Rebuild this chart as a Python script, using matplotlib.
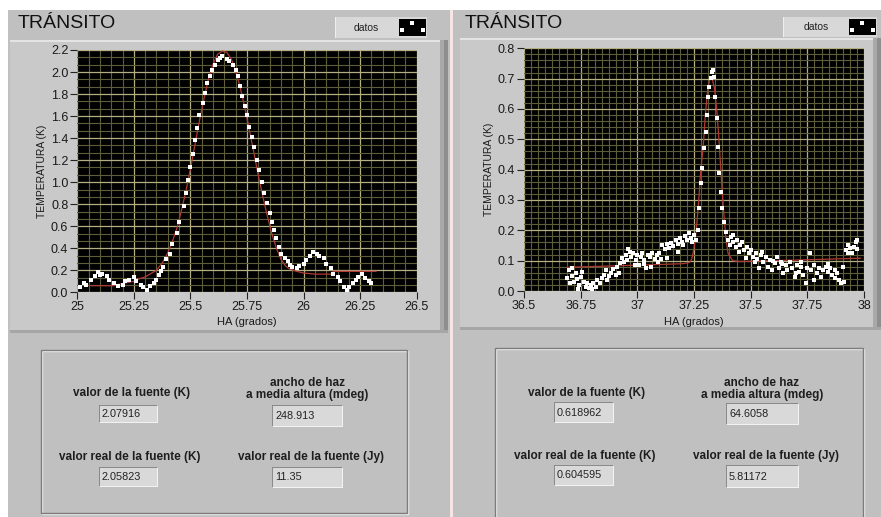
import matplotlib
matplotlib.use("Agg")
import matplotlib.pyplot as plt
from matplotlib.patches import Rectangle, Patch
from matplotlib.legend_handler import HandlerTuple
from matplotlib.ticker import MultipleLocator, FixedLocator
import numpy as np

plt.rcParams['font.family'] = ['Liberation Sans', 'DejaVu Sans']

# ---- left transit ----
left_x = [25.01, 25.03, 25.04, 25.06, 25.08, 25.09, 25.10, 25.11, 25.13, 25.14,
          25.16, 25.18, 25.20, 25.21, 25.23, 25.25, 25.26, 25.28, 25.29, 25.31,
          25.32, 25.34, 25.35, 25.36, 25.37, 25.38, 25.39, 25.41, 25.42, 25.44,
          25.45, 25.47, 25.48, 25.49, 25.50, 25.51, 25.52, 25.53, 25.54, 25.555,
          25.565, 25.575, 25.585, 25.595, 25.61, 25.62, 25.63, 25.64, 25.66, 25.67,
          25.69, 25.70, 25.71, 25.72, 25.73, 25.74, 25.75, 25.76, 25.77, 25.78,
          25.795, 25.805, 25.815, 25.825, 25.84, 25.85, 25.86, 25.87, 25.88, 25.89,
          25.90, 25.92, 25.93, 25.94, 25.95, 25.97, 25.98, 26.00, 26.01, 26.03,
          26.04, 26.06, 26.07, 26.09, 26.10, 26.12, 26.13, 26.15, 26.16, 26.18,
          26.19, 26.20, 26.22, 26.23, 26.24, 26.26, 26.27, 26.29, 26.30]
left_y = [0.045, 0.08, 0.067, 0.11, 0.15, 0.18, 0.16, 0.17, 0.15, 0.11,
          0.08, 0.06, 0.067, 0.10, 0.11, 0.14, 0.10, 0.067, 0.05, 0.02,
          0.06, 0.08, 0.11, 0.16, 0.19, 0.23, 0.30, 0.35, 0.44, 0.54,
          0.64, 0.78, 0.90, 1.02, 1.14, 1.26, 1.38, 1.49, 1.61, 1.72,
          1.81, 1.90, 1.96, 2.02, 2.06, 2.11, 2.13, 2.15, 2.12, 2.10,
          2.06, 2.02, 1.96, 1.87, 1.78, 1.69, 1.61, 1.50, 1.41, 1.32,
          1.20, 1.11, 1.00, 0.90, 0.81, 0.72, 0.64, 0.57, 0.49, 0.41,
          0.35, 0.31, 0.28, 0.25, 0.23, 0.22, 0.24, 0.26, 0.29, 0.33,
          0.37, 0.35, 0.33, 0.31, 0.26, 0.22, 0.17, 0.14, 0.10, 0.05,
          0.02, 0.045, 0.08, 0.11, 0.14, 0.17, 0.13, 0.10, 0.08]
left_fit_x = [25.06, 25.16, 25.20, 25.25, 25.27, 25.30, 25.35, 25.38, 25.40, 25.42,
              25.44, 25.46, 25.48, 25.50, 25.52, 25.54, 25.56, 25.58, 25.60, 25.62,
              25.64, 25.66, 25.68, 25.70, 25.72, 25.74, 25.76, 25.78, 25.80, 25.82,
              25.84, 25.86, 25.88, 25.90, 25.92, 25.94, 25.97, 26.00, 26.05, 26.13,
              26.13, 26.32]
left_fit_y = [0.06, 0.06, 0.08, 0.10, 0.12, 0.14, 0.20, 0.28, 0.36, 0.46,
              0.58, 0.74, 0.92, 1.12, 1.34, 1.56, 1.76, 1.94, 2.07, 2.16,
              2.19, 2.18, 2.12, 2.01, 1.86, 1.68, 1.48, 1.27, 1.06, 0.87,
              0.69, 0.53, 0.40, 0.30, 0.24, 0.21, 0.19, 0.175, 0.165, 0.165,
              0.19, 0.19]
left_xticks = [25, 25.25, 25.5, 25.75, 26, 26.25, 26.5]
left_xlabels = ['25', '25.25', '25.5', '25.75', '26', '26.25', '26.5']
left_yticks = [0.0, 0.2, 0.4, 0.6, 0.8, 1.0, 1.2, 1.4, 1.6, 1.8, 2.0, 2.2]
left_values = ['2.07916', '248.913', '2.05823', '11.35']

# ---- right transit ----
right_x = [36.691, 36.699, 36.703, 36.713, 36.721, 36.728, 36.735, 36.743, 36.750, 36.757,
           36.765, 36.772, 36.779, 36.787, 36.794, 36.806, 36.816, 36.824, 36.835, 36.846,
           36.853, 36.865, 36.875, 36.885, 36.894, 36.904, 36.912, 36.924, 36.934, 36.941,
           36.949, 36.956, 36.968, 36.974, 36.982, 36.993, 37.000, 37.007, 37.015, 37.022,
           37.029, 37.038, 37.047, 37.056, 37.066, 37.076, 37.085, 37.096, 37.103, 37.110,
           37.121, 37.129, 37.140, 37.147, 37.159, 37.169, 37.179, 37.188, 37.199, 37.209,
           37.221, 37.228, 37.238, 37.250, 37.257,
           37.269, 37.274, 37.281, 37.287, 37.294, 37.301, 37.306, 37.313, 37.318, 37.324,
           37.328, 37.332, 37.338, 37.344, 37.350, 37.356, 37.362, 37.368, 37.375, 37.382,
           37.391,
           37.400, 37.409, 37.415, 37.424, 37.434, 37.441, 37.453, 37.463, 37.471, 37.482,
           37.493, 37.500, 37.512, 37.522, 37.529, 37.537, 37.547, 37.556, 37.566, 37.576,
           37.585, 37.596, 37.606, 37.615, 37.625, 37.632, 37.644, 37.654, 37.662, 37.674,
           37.684, 37.694, 37.703, 37.713, 37.724, 37.732, 37.743, 37.750, 37.762, 37.768,
           37.779, 37.791, 37.801, 37.812, 37.821, 37.831, 37.841, 37.850, 37.860, 37.871,
           37.879, 37.890, 37.900, 37.909, 37.919, 37.929, 37.938, 37.949, 37.956, 37.963,
           37.971,
           36.960, 36.990, 37.030, 37.060, 37.090, 37.130, 37.180, 37.200, 37.240, 37.420,
           37.450, 37.480, 37.520, 37.550, 37.600, 37.640, 37.700, 37.720, 37.780, 37.840,
           37.870, 37.910, 37.930, 37.970, 36.710, 36.740, 36.800, 36.860, 36.920]
right_y = [0.042, 0.069, 0.025, 0.049, 0.031, 0.058, 0.038, 0.020, 0.047, 0.064,
           0.031, 0.014, 0.025, 0.009, 0.020, 0.027, 0.014, 0.036, 0.025, 0.042,
           0.053, 0.036, 0.049, 0.058, 0.071, 0.053, 0.080, 0.091, 0.108, 0.097,
           0.119, 0.102, 0.130, 0.111, 0.124, 0.102, 0.119, 0.086, 0.111, 0.126,
           0.102, 0.075, 0.119, 0.111, 0.126, 0.104, 0.119, 0.124, 0.104, 0.152,
           0.137, 0.155, 0.141, 0.159, 0.148, 0.168, 0.155, 0.174, 0.163, 0.181,
           0.168, 0.190, 0.174, 0.185, 0.168,
           0.201, 0.273, 0.355, 0.404, 0.470, 0.525, 0.580, 0.641, 0.674, 0.701,
           0.723, 0.729, 0.707, 0.641, 0.569, 0.476, 0.388, 0.327, 0.273, 0.229,
           0.196,
           0.168, 0.152, 0.179, 0.163, 0.146, 0.168, 0.152, 0.163, 0.135, 0.146,
           0.124, 0.135, 0.113, 0.124, 0.104, 0.075, 0.119, 0.097, 0.113, 0.080,
           0.102, 0.069, 0.091, 0.111, 0.075, 0.097, 0.058, 0.086, 0.069, 0.097,
           0.075, 0.047, 0.086, 0.064, 0.080, 0.053, 0.025, 0.075, 0.124, 0.069,
           0.086, 0.058, 0.075, 0.047, 0.069, 0.080, 0.064, 0.075, 0.053, 0.042,
           0.058, 0.036, 0.025, 0.080, 0.135, 0.152, 0.141, 0.124, 0.146, 0.163,
           0.168,
           0.140, 0.085, 0.090, 0.080, 0.095, 0.110, 0.130, 0.150, 0.160, 0.185,
           0.130, 0.110, 0.095, 0.130, 0.100, 0.090, 0.060, 0.095, 0.035, 0.090,
           0.070, 0.030, 0.125, 0.140, 0.075, 0.005, 0.005, 0.070, 0.060]
right_fit_x = [36.69, 36.95, 37.20, 37.23, 37.24, 37.25, 37.26, 37.27, 37.28, 37.29,
               37.30, 37.31, 37.32, 37.33, 37.34, 37.35, 37.36, 37.37, 37.38, 37.39,
               37.40, 37.42, 37.45, 37.70, 37.985]
right_fit_y = [0.078, 0.084, 0.090, 0.094, 0.105, 0.14, 0.20, 0.29, 0.40, 0.47,
               0.58, 0.66, 0.70, 0.70, 0.67, 0.60, 0.50, 0.38, 0.27, 0.18,
               0.125, 0.10, 0.097, 0.102, 0.108]
right_xticks = [36.5, 36.75, 37, 37.25, 37.5, 37.75, 38]
right_xlabels = ['36.5', '36.75', '37', '37.25', '37.5', '37.75', '38']
right_yticks = [0.0, 0.1, 0.2, 0.3, 0.4, 0.5, 0.6, 0.7, 0.8]
right_values = ['0.618962', '64.6058', '0.604595', '5.81172']

W, H = 881, 517
fig = plt.figure(figsize=(W / 100, H / 100), dpi=100, facecolor='white')


def rect(x0, y0, x1, y1, **kw):
    # rectangle given in screen pixels (origin top-left)
    kw.setdefault('lw', 0)
    r = Rectangle((x0 / W, 1 - y1 / H), (x1 - x0) / W, (y1 - y0) / H,
                  transform=fig.transFigure, zorder=kw.pop('zorder', -5), **kw)
    fig.add_artist(r)


def text(x, y, s, **kw):
    fig.text(x / W, 1 - y / H, s, **kw)


def value_box(x0, y0, x1, y1, s):
    rect(x0, y0, x1, y1, fc='#8a8a8a', zorder=-3)
    rect(x0 + 1, y0 + 1, x1 + 1, y1 + 1, fc='#f2f2f2', zorder=-2)
    rect(x0 + 1, y0 + 1, x1, y1, fc='#d9d9d9', zorder=-1)
    text(x0 + 3, (y0 + y1) / 2 + 0.5, s, fontsize=7.8, color='#222222',
         ha='left', va='center')


def engraved(x0, y0, x1, y1):
    rect(x0 + 1, y0 + 1, x1 + 1, y1 + 1, fc='none', ec='#efefef', lw=1, zorder=-2)
    rect(x0, y0, x1, y1, fc='none', ec='#7c7c7c', lw=1, zorder=-1)


def panel(ox, frame, axbox, xs, ys, fx, fy, xticks, xlabels, yticks,
          xlim, ylim, xminor, yminor, leg, values, labels_pos, boxes):
    # screenshot background and graph frame
    fx0, fy0, fx1, fy1 = frame
    rect(fx0, fy0, fx1, fy1, fc='#c9c9c9', zorder=-4)
    rect(fx1 - 8, fy0, fx1, fy1, fc='#a9a9a9', zorder=-4)
    rect(fx1 - 4, fy0, fx1, fy1, fc='#8f8f8f', zorder=-4)
    rect(fx0, fy1 - 3, fx1, fy1, fc='#a6a6a6', zorder=-4)
    rect(fx0, fy0, fx1 - 8, fy0 + 1.5, fc='#e4e4e4', zorder=-4)
    text(ox + 18, 24, 'TRÁNSITO', fontsize=14, color='#111111',
         ha='left', va='center')

    x0, y0, x1, y1 = axbox
    ax = fig.add_axes([x0 / W, 1 - y1 / H, (x1 - x0) / W, (y1 - y0) / H])
    ax.set_facecolor('black')
    ax.set_axisbelow(True)
    ax.scatter(xs, ys, marker='s', s=7, c='white', linewidths=0, zorder=3,
               label='datos')
    ax.plot(fx, fy, color='#b03a34', lw=0.9, zorder=2)
    ax.set_xlim(*xlim)
    ax.set_ylim(*ylim)
    ax.xaxis.set_major_locator(FixedLocator(xticks))
    ax.set_xticklabels(xlabels)
    ax.yaxis.set_major_locator(FixedLocator(yticks))
    ax.set_yticklabels(['%.1f' % v for v in yticks])
    ax.xaxis.set_minor_locator(MultipleLocator(xminor))
    ax.yaxis.set_minor_locator(MultipleLocator(yminor))
    ax.grid(which='minor', color='#5e5d3a', lw=0.8)
    ax.grid(which='major', color='#b3ae84', lw=0.9)
    ax.tick_params(which='major', direction='out', length=5, width=0.8,
                   color='#222222', labelsize=9, labelcolor='#1a1a1a', pad=1.5)
    ax.tick_params(which='minor', length=0)
    for sp in ax.spines.values():
        sp.set_visible(False)
    text((x0 + x1) / 2, 322, 'HA (grados)', fontsize=8, color='#1a1a1a',
         ha='center', va='center')
    text(ox + 42, (y0 + y1) / 2, 'TEMPERATURA (K)', fontsize=7.5,
         color='#1a1a1a', ha='center', va='center', rotation=90)

    # legend plate
    lx0, ly0, lx1, ly1 = leg
    rect(lx0, ly0, lx1, ly1, fc='#d8d8d8', zorder=-3)
    rect(lx0, ly0, lx0 + 1, ly1, fc='#efefef', zorder=-3)
    sc = ax.collections[0]
    lg = ax.legend(handles=[(Patch(fc='black', ec='none'), sc)], labels=['datos'],
                   handler_map={tuple: HandlerTuple(ndivide=1, pad=0)},
                   scatterpoints=3, scatteryoffsets=[0.03, 0.45, 0.03],
                   markerscale=1.1,
                   markerfirst=False, frameon=False, fontsize=7.5,
                   handlelength=2.6, handleheight=2.1, handletextpad=1.9,
                   borderpad=0, borderaxespad=0, loc='center right',
                   bbox_to_anchor=((lx1 - 1) / W, 1 - ((ly0 + ly1) / 2) / H),
                   bbox_transform=fig.transFigure)
    for t in lg.get_texts():
        t.set_color('#222222')

    # result box
    engraved(*labels_pos['box'])
    for (cx, cy, s) in labels_pos['labels']:
        text(cx, cy, s, fontsize=8.5, fontweight='bold', color='#1e1e1e',
             ha='center', va='center', linespacing=1.05)
    for b, v in zip(boxes, values):
        value_box(*b, v)


# screenshots backgrounds
rect(8, 10, 450, 517, fc='#c0c0c0', zorder=-6)
rect(450, 10, 453, 517, fc='#f7e4e4', zorder=-6)
rect(453, 10, 881, 517, fc='#c0c0c0', zorder=-6)

panel(0, (10, 40, 448, 333), (77.3, 50, 416.7, 292.3),
      left_x, left_y, left_fit_x, left_fit_y,
      left_xticks, left_xlabels, left_yticks, (25, 26.5), (0, 2.2),
      0.05, 0.2 / 3, (335, 17, 427, 38), left_values,
      {'box': (41, 350, 407, 513),
       'labels': [(132, 393, 'valor de la fuente (K)'),
                  (307, 389, 'ancho de haz\na media altura (mdeg)'),
                  (130, 457, 'valor real de la fuente (K)'),
                  (311, 457, 'valor real de la fuente (Jy)')]},
      [(99, 405, 157, 422), (272, 405, 342, 426),
       (99, 467, 157, 486), (272, 467, 342, 487)])

panel(447, (460, 38, 881, 330), (524, 48.3, 864, 291),
      right_x, right_y, right_fit_x, right_fit_y,
      right_xticks, right_xlabels, right_yticks, (36.5, 38), (0, 0.8),
      0.25 / 8, 0.02, (783, 17, 877, 37), right_values,
      {'box': (495, 348, 863, 530),
       'labels': [(587, 393, 'valor de la fuente (K)'),
                  (762, 389, 'ancho de haz\na media altura (mdeg)'),
                  (585, 456, 'valor real de la fuente (K)'),
                  (766, 456, 'valor real de la fuente (Jy)')]},
      [(554, 402, 613, 422), (726, 403, 798, 424),
       (554, 465, 613, 485), (726, 465, 798, 487)])

fig.savefig('out.png', dpi=100, facecolor='white')
